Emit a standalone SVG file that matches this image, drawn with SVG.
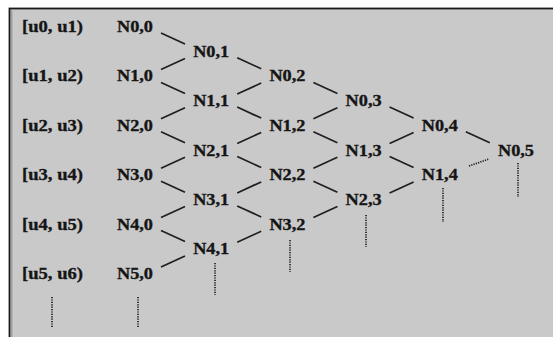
<svg xmlns="http://www.w3.org/2000/svg" width="553" height="337" viewBox="0 0 553 337">
<style>
text{font-family:"Liberation Serif",serif;font-weight:bold;font-size:17.5px;fill:#151515;stroke:#151515;stroke-width:0.35}
.e line{stroke:#1e1e1e;stroke-width:1.7}
.e line.d{stroke:#1e1e1e;stroke-width:1.7;stroke-dasharray:1.2 1.2}
</style>
<rect x="0" y="0" width="553" height="337" fill="#ffffff"/>
<rect x="9.5" y="8.5" width="560" height="340" fill="#c9c9c9" stroke="#1a1a1a" stroke-width="1.8"/>
<line x1="11.8" y1="10.5" x2="11.8" y2="337" stroke="#8a8a8a" stroke-width="1"/>
<g id="labels">
<text x="22" y="32" textLength="61" lengthAdjust="spacingAndGlyphs">[u0, u1)</text>
<text x="22" y="81.4" textLength="61" lengthAdjust="spacingAndGlyphs">[u1, u2)</text>
<text x="22" y="130.8" textLength="61" lengthAdjust="spacingAndGlyphs">[u2, u3)</text>
<text x="22" y="180.2" textLength="61" lengthAdjust="spacingAndGlyphs">[u3, u4)</text>
<text x="22" y="229.6" textLength="61" lengthAdjust="spacingAndGlyphs">[u4, u5)</text>
<text x="22" y="279" textLength="61" lengthAdjust="spacingAndGlyphs">[u5, u6)</text>
</g>
<g id="n00"><text x="117" y="32" textLength="36" lengthAdjust="spacingAndGlyphs">N0,0</text></g>
<g id="n10"><text x="117" y="81.4" textLength="36" lengthAdjust="spacingAndGlyphs">N1,0</text></g>
<g id="n20"><text x="117" y="130.8" textLength="36" lengthAdjust="spacingAndGlyphs">N2,0</text></g>
<g id="n30"><text x="117" y="180.2" textLength="36" lengthAdjust="spacingAndGlyphs">N3,0</text></g>
<g id="n40"><text x="117" y="229.6" textLength="36" lengthAdjust="spacingAndGlyphs">N4,0</text></g>
<g id="n50"><text x="117" y="279" textLength="36" lengthAdjust="spacingAndGlyphs">N5,0</text></g>
<g id="n01"><text x="193.2" y="56.7" textLength="36" lengthAdjust="spacingAndGlyphs">N0,1</text></g>
<g id="n11"><text x="193.2" y="106.1" textLength="36" lengthAdjust="spacingAndGlyphs">N1,1</text></g>
<g id="n21"><text x="193.2" y="155.5" textLength="36" lengthAdjust="spacingAndGlyphs">N2,1</text></g>
<g id="n31"><text x="193.2" y="204.9" textLength="36" lengthAdjust="spacingAndGlyphs">N3,1</text></g>
<g id="n41"><text x="193.2" y="254.3" textLength="36" lengthAdjust="spacingAndGlyphs">N4,1</text></g>
<g id="n02"><text x="269.4" y="81.4" textLength="36" lengthAdjust="spacingAndGlyphs">N0,2</text></g>
<g id="n12"><text x="269.4" y="130.8" textLength="36" lengthAdjust="spacingAndGlyphs">N1,2</text></g>
<g id="n22"><text x="269.4" y="180.2" textLength="36" lengthAdjust="spacingAndGlyphs">N2,2</text></g>
<g id="n32"><text x="269.4" y="229.6" textLength="36" lengthAdjust="spacingAndGlyphs">N3,2</text></g>
<g id="n03"><text x="345.6" y="106.1" textLength="36" lengthAdjust="spacingAndGlyphs">N0,3</text></g>
<g id="n13"><text x="345.6" y="155.5" textLength="36" lengthAdjust="spacingAndGlyphs">N1,3</text></g>
<g id="n23"><text x="345.6" y="204.9" textLength="36" lengthAdjust="spacingAndGlyphs">N2,3</text></g>
<g id="n04"><text x="421.8" y="130.8" textLength="36" lengthAdjust="spacingAndGlyphs">N0,4</text></g>
<g id="n14"><text x="421.8" y="180.2" textLength="36" lengthAdjust="spacingAndGlyphs">N1,4</text></g>
<g id="n05"><text x="498" y="155.5" textLength="36" lengthAdjust="spacingAndGlyphs">N0,5</text></g>
<g id="connectors" class="e">
<line x1="161" y1="33" x2="185" y2="44"/>
<line x1="161" y1="82.4" x2="185" y2="93.4"/>
<line x1="161" y1="131.8" x2="185" y2="142.8"/>
<line x1="161" y1="181.2" x2="185" y2="192.2"/>
<line x1="161" y1="230.6" x2="185" y2="241.6"/>
<line x1="237.2" y1="57.7" x2="261.2" y2="68.7"/>
<line x1="237.2" y1="107.1" x2="261.2" y2="118.1"/>
<line x1="237.2" y1="156.5" x2="261.2" y2="167.5"/>
<line x1="237.2" y1="205.9" x2="261.2" y2="216.9"/>
<line x1="313.4" y1="82.4" x2="337.4" y2="93.4"/>
<line x1="313.4" y1="131.8" x2="337.4" y2="142.8"/>
<line x1="313.4" y1="181.2" x2="337.4" y2="192.2"/>
<line x1="389.6" y1="107.1" x2="413.6" y2="118.1"/>
<line x1="389.6" y1="156.5" x2="413.6" y2="167.5"/>
<line x1="465.8" y1="131.8" x2="489.8" y2="142.8"/>
<line x1="161" y1="69.4" x2="185" y2="58.4"/>
<line x1="161" y1="118.8" x2="185" y2="107.8"/>
<line x1="161" y1="168.2" x2="185" y2="157.2"/>
<line x1="161" y1="217.6" x2="185" y2="206.6"/>
<line x1="161" y1="267" x2="185" y2="256"/>
<line x1="237.2" y1="94.1" x2="261.2" y2="83.1"/>
<line x1="237.2" y1="143.5" x2="261.2" y2="132.5"/>
<line x1="237.2" y1="192.9" x2="261.2" y2="181.9"/>
<line x1="237.2" y1="242.3" x2="261.2" y2="231.3"/>
<line x1="313.4" y1="118.8" x2="337.4" y2="107.8"/>
<line x1="313.4" y1="168.2" x2="337.4" y2="157.2"/>
<line x1="313.4" y1="217.6" x2="337.4" y2="206.6"/>
<line x1="389.6" y1="143.5" x2="413.6" y2="132.5"/>
<line x1="389.6" y1="192.9" x2="413.6" y2="181.9"/>
<line class="d" x1="469" y1="166" x2="489" y2="159"/>
<line class="d" x1="518" y1="163" x2="518" y2="197"/>
<line class="d" x1="443" y1="188" x2="443" y2="222"/>
<line class="d" x1="366" y1="215" x2="366" y2="247"/>
<line class="d" x1="290" y1="240" x2="290" y2="272"/>
<line class="d" x1="215" y1="263" x2="215" y2="295"/>
<line class="d" x1="138" y1="297" x2="138" y2="328"/>
<line class="d" x1="52" y1="297" x2="52" y2="328"/>
</g>
</svg>
